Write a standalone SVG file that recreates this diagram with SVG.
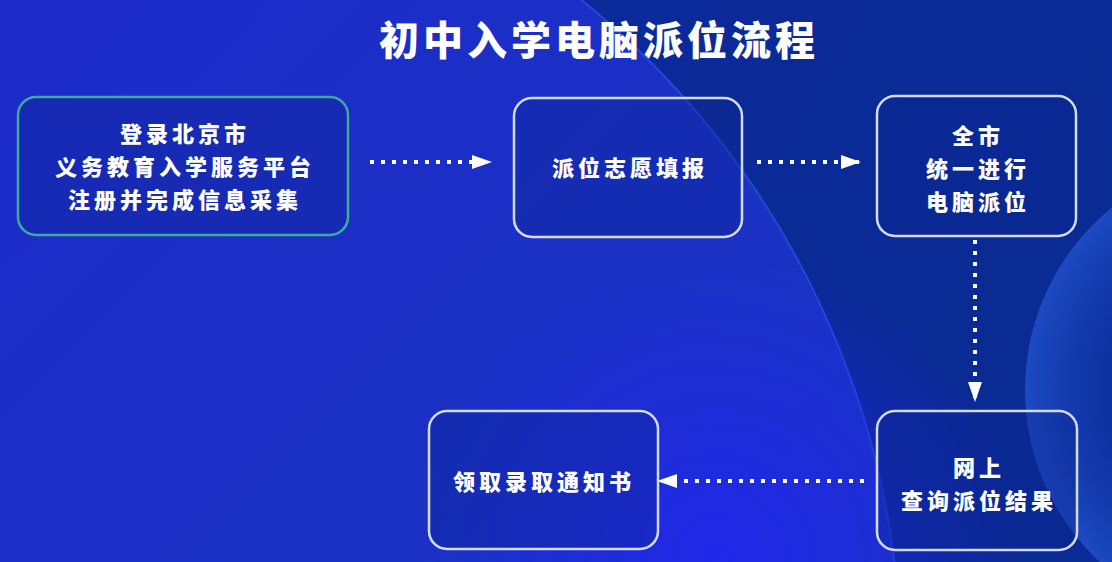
<svg xmlns="http://www.w3.org/2000/svg" width="1112" height="562" viewBox="0 0 1112 562">
  <defs>
    <linearGradient id="bg" x1="0" y1="0" x2="1" y2="0.3">
      <stop offset="0" stop-color="#0d2aa0"/>
      <stop offset="1" stop-color="#0a2a94"/>
    </linearGradient>
    <linearGradient id="inner" x1="0" y1="0" x2="1" y2="1">
      <stop offset="0" stop-color="#2024cf"/>
      <stop offset="0.6" stop-color="#1a32c4"/>
      <stop offset="1" stop-color="#1636bb"/>
    </linearGradient>
    <radialGradient id="glow" cx="720" cy="560" r="300" gradientUnits="userSpaceOnUse">
      <stop offset="0" stop-color="#2226f0" stop-opacity="0.85"/>
      <stop offset="1" stop-color="#2226f0" stop-opacity="0"/>
    </radialGradient>
    <radialGradient id="rc" cx="1260" cy="390" r="235" gradientUnits="userSpaceOnUse">
      <stop offset="0.6" stop-color="#1a4bd0" stop-opacity="0.15"/>
      <stop offset="1" stop-color="#2f6bf0" stop-opacity="0.5"/>
    </radialGradient>
    <marker id="ah" viewBox="0 0 10 7" refX="9" refY="3.5" markerWidth="5" markerHeight="3.5" orient="auto" markerUnits="strokeWidth">
      <path d="M0,0 L10,3.5 L0,7 Z" fill="#ffffff"/>
    </marker>
    <style>
      .box { fill: #0b2590; fill-opacity: 0.35; stroke: #d4dbf5; stroke-width: 2.5; }
      .box1 { stroke: #3ea99c; }
      .t { font-family: "Noto Sans CJK SC", "Noto Sans", sans-serif; font-weight: 900; fill: #ffffff; text-anchor: middle; font-size: 22px; letter-spacing: 4px; }
      .title { font-size: 40px; letter-spacing: 4px; }
      .conn { stroke: #ffffff; stroke-width: 4; stroke-dasharray: 4 7; fill: none; }
    </style>
  </defs>

  <rect width="1112" height="562" fill="url(#bg)"/>
  <circle cx="43" cy="668" r="858" fill="url(#inner)"/>
  <circle cx="43" cy="668" r="858" fill="none" stroke="#2c5cf2" stroke-width="2" opacity="0.6"/>
  <rect width="1112" height="562" fill="url(#glow)"/>
  <circle cx="1260" cy="390" r="235" fill="url(#rc)"/>

  <text class="t title" x="599" y="55">初中入学电脑派位流程</text>

  <g id="connectors">
    <line class="conn" x1="370" y1="162" x2="490" y2="162" marker-end="url(#ah)"/>
    <line class="conn" x1="757" y1="162" x2="859" y2="162" marker-end="url(#ah)"/>
    <line class="conn" x1="975" y1="240" x2="975" y2="400" marker-end="url(#ah)"/>
    <line class="conn" x1="864" y1="481" x2="659" y2="481" marker-end="url(#ah)"/>
  </g>

  <g id="node1">
    <rect class="box box1" x="18" y="97" width="330" height="138" rx="18"/>
    <text class="t" x="185" y="142">登录北京市</text>
    <text class="t" x="185" y="175">义务教育入学服务平台</text>
    <text class="t" x="185" y="208">注册并完成信息采集</text>
  </g>
  <g id="node2">
    <rect class="box" x="514" y="98" width="228" height="139" rx="18"/>
    <text class="t" x="630" y="176">派位志愿填报</text>
  </g>
  <g id="node3">
    <rect class="box" x="877" y="96" width="199" height="140" rx="18"/>
    <text class="t" x="978" y="144">全市</text>
    <text class="t" x="978" y="177">统一进行</text>
    <text class="t" x="978" y="210">电脑派位</text>
  </g>
  <g id="node4">
    <rect class="box" x="877" y="411" width="200" height="139" rx="18"/>
    <text class="t" x="979" y="476">网上</text>
    <text class="t" x="979" y="509">查询派位结果</text>
  </g>
  <g id="node5">
    <rect class="box" x="429" y="411" width="229" height="138" rx="18"/>
    <text class="t" x="544" y="490">领取录取通知书</text>
  </g>
</svg>
